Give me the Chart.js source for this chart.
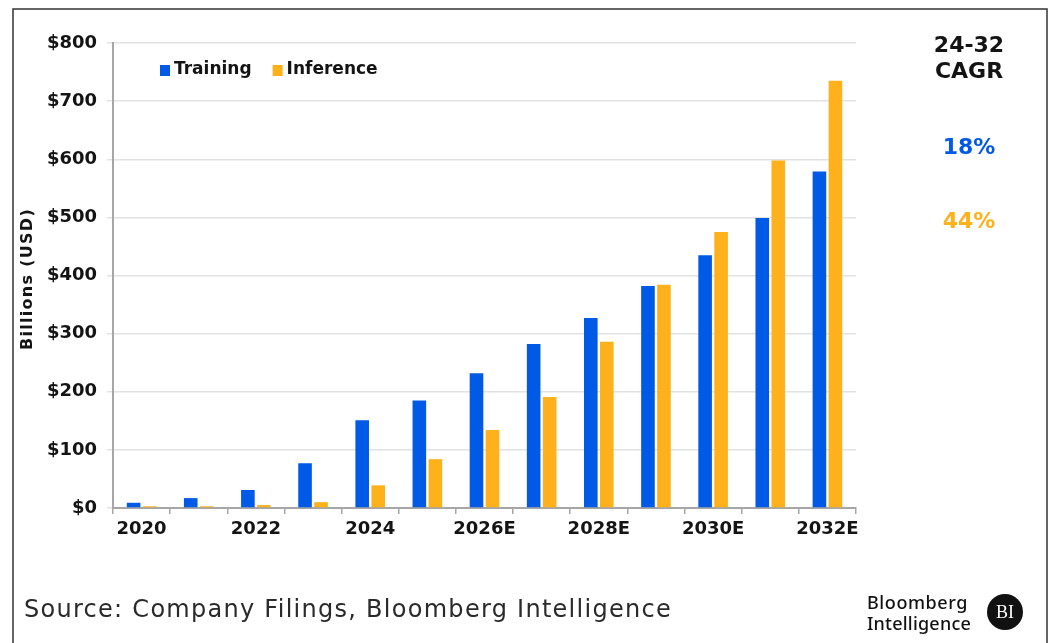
<!DOCTYPE html>
<html>
<head>
<meta charset="utf-8">
<script src="https://cdn.jsdelivr.net/npm/chart.js@4.4.1/dist/chart.umd.min.js"></script>
<style>
  html, body { margin: 0; padding: 0; background: #fff; }
  #wrap { width: 1051px; height: 643px; position: relative; }
</style>
</head>
<body>
<div id="wrap"><canvas id="aiChart" width="1051" height="643"></canvas></div>
<script>
// yearly spend, billions USD
var years = ['2020', '2021', '2022', '2023', '2024', '2025', '2026E', '2027E', '2028E', '2029E', '2030E', '2031E', '2032E'];
var training = [9, 17, 31, 77, 151, 185, 232, 282, 327, 382, 435, 499, 579];
var inference = [3, 3, 5, 10, 39, 84, 134, 191, 286, 384, 475, 598, 735];
var yTitle = 'Billions (USD)';
var cagrTitle = ['24-32', 'CAGR'];
var cagrValues = ['18%', '44%'];
var sourceText = 'Source: Company Filings, Bloomberg Intelligence';

var BLUE = '#005ae6';
var ORANGE = '#ffb11b';
var INK = '#141414';
var FONT = '"DejaVu Sans", Verdana, sans-serif';

// draw text stretched with letter spacing so it spans a given width
function spacedText(c, text, x, y, width) {
    c.letterSpacing = '0px';
    var w = c.measureText(text).width;
    var sp = (width - w) / text.length;
    c.letterSpacing = sp + 'px';
    c.fillText(text, x, y);
    c.letterSpacing = '0px';
}

// frame, legend, axis title, CAGR column and footer
var decorations = {
    id: 'decorations',
    afterDraw: function(chart) {
        var c = chart.ctx;
        c.save();

        c.strokeStyle = '#333';
        c.lineWidth = 1.5;
        c.beginPath();
        c.moveTo(13, 660);
        c.lineTo(13, 9);
        c.lineTo(1047, 9);
        c.lineTo(1047, 660);
        c.stroke();

        // legend inside the plot
        var lx = 160;
        c.font = 'bold 17px ' + FONT;
        c.textBaseline = 'middle';
        chart.data.datasets.forEach(function(ds) {
            c.fillStyle = ds.backgroundColor;
            c.fillRect(lx, 65, 10, 11);
            c.fillStyle = INK;
            c.textAlign = 'left';
            c.fillText(ds.label, lx + 14, 70);
            lx += 14 + c.measureText(ds.label).width + 21;
        });

        // rotated axis title
        c.save();
        c.translate(28, 279);
        c.rotate(-Math.PI / 2);
        c.font = 'bold 16px ' + FONT;
        c.fillStyle = INK;
        c.textAlign = 'left';
        spacedText(c, yTitle, -71, 0, 142);
        c.restore();

        c.textAlign = 'center';
        c.font = 'bold 22px ' + FONT;
        c.fillStyle = INK;
        c.fillText(cagrTitle[0], 969, 46);
        c.fillText(cagrTitle[1], 969, 72);
        c.fillStyle = BLUE;
        c.fillText(cagrValues[0], 969, 148);
        c.fillStyle = ORANGE;
        c.fillText(cagrValues[1], 969, 222);

        c.textAlign = 'left';
        c.fillStyle = '#2a2a2a';
        c.font = '24px "DejaVu Sans", sans-serif';
        spacedText(c, sourceText, 24, 611, 648);

        // logo
        c.fillStyle = '#111';
        c.font = '500 18px "Noto Sans", "Open Sans", sans-serif';
        spacedText(c, 'Bloomberg', 867, 604, 101);
        spacedText(c, 'Intelligence', 867, 625, 104);
        c.beginPath();
        c.arc(1005, 612, 18, 0, Math.PI * 2);
        c.fill();
        c.fillStyle = '#fff';
        c.textAlign = 'center';
        c.font = '18px "Liberation Serif", serif';
        c.fillText('BI', 1005, 613);

        c.restore();
    }
};

var ctx = document.getElementById('aiChart').getContext('2d');

var aiChart = new Chart(ctx, {
    type: 'bar',
    data: {
        labels: years,
        datasets: [{
            label: 'Training',
            data: training,
            backgroundColor: BLUE,
            categoryPercentage: 0.56,
            barPercentage: 0.85
        }, {
            label: 'Inference',
            data: inference,
            backgroundColor: ORANGE,
            categoryPercentage: 0.56,
            barPercentage: 0.85
        }]
    },
    options: {
        responsive: false,
        animation: false,
        layout: {
            padding: { left: 0, top: 43, right: 195, bottom: 0 }
        },
        plugins: {
            legend: { display: false },
            tooltip: { enabled: false }
        },
        scales: {
            x: {
                grid: {
                    drawOnChartArea: false,
                    drawTicks: true,
                    tickLength: 6,
                    color: '#a6a6a6',
                    lineWidth: 1.5
                },
                border: { color: '#a6a6a6', width: 2 },
                ticks: {
                    autoSkip: false,
                    maxRotation: 0,
                    padding: 5,
                    color: INK,
                    font: { family: FONT, size: 18, weight: 'bold' },
                    callback: function(val, i) {
                        return i % 2 === 0 ? this.getLabelForValue(val) : '';
                    }
                },
                afterFit: function(scale) { scale.height = 135; }
            },
            y: {
                min: 0,
                max: 800,
                ticks: {
                    stepSize: 100,
                    padding: 10,
                    color: INK,
                    font: { family: FONT, size: 18, weight: 'bold' },
                    callback: function(v) { return '$' + v; }
                },
                grid: {
                    color: '#e2e2e2',
                    lineWidth: 1.5,
                    tickLength: 6
                },
                border: { color: '#a6a6a6', width: 2 },
                afterFit: function(scale) { scale.width = 113; }
            }
        }
    },
    plugins: [decorations]
});
</script>
</body>
</html>
